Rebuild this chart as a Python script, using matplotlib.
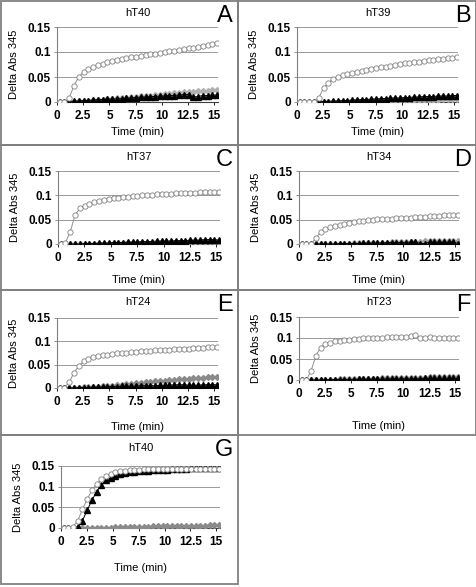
import matplotlib
matplotlib.use("Agg")
import matplotlib.pyplot as plt
from matplotlib.patches import Rectangle

W, H = 477, 587

# sampling times (min)
times = [0.25, 0.71, 1.16, 1.62, 2.07, 2.53, 2.98, 3.44, 3.89, 4.35, 4.80, 5.26,
         5.71, 6.17, 6.62, 7.08, 7.53, 7.99, 8.44, 8.90, 9.35, 9.81, 10.26, 10.72,
         11.17, 11.63, 12.08, 12.54, 12.99, 13.45, 13.90, 14.36, 14.81, 15.25]

titles = ["hT40", "hT39", "hT37", "hT34", "hT24", "hT23", "hT40"]
letters = ["A", "B", "C", "D", "E", "F", "G"]

# open circles
a_open = [0, 0, 0.008, 0.033, 0.050, 0.060, 0.066, 0.071, 0.074, 0.077, 0.080, 0.082,
          0.084, 0.086, 0.088, 0.090, 0.091, 0.093, 0.094, 0.096, 0.097, 0.099, 0.100, 0.102,
          0.103, 0.105, 0.106, 0.108, 0.109, 0.110, 0.112, 0.114, 0.116, 0.118]
b_open = [0, 0, 0, 0, 0.008, 0.028, 0.039, 0.046, 0.051, 0.054, 0.057, 0.059,
          0.061, 0.063, 0.065, 0.067, 0.069, 0.070, 0.071, 0.073, 0.074, 0.076, 0.078, 0.079,
          0.080, 0.081, 0.083, 0.084, 0.085, 0.086, 0.087, 0.088, 0.089, 0.090]
c_open = [0, 0.003, 0.025, 0.060, 0.073, 0.079, 0.083, 0.086, 0.088, 0.090, 0.092, 0.094,
          0.095, 0.096, 0.097, 0.098, 0.099, 0.100, 0.100, 0.101, 0.102, 0.102, 0.103, 0.103,
          0.104, 0.104, 0.105, 0.105, 0.105, 0.106, 0.106, 0.106, 0.106, 0.106]
d_open = [0, 0, 0, 0.012, 0.025, 0.030, 0.034, 0.037, 0.040, 0.042, 0.044, 0.046,
          0.047, 0.048, 0.049, 0.050, 0.051, 0.051, 0.052, 0.052, 0.053, 0.053, 0.054, 0.054,
          0.055, 0.055, 0.056, 0.057, 0.057, 0.058, 0.059, 0.059, 0.060, 0.060]
e_open = [0, 0.001, 0.012, 0.033, 0.047, 0.057, 0.062, 0.066, 0.068, 0.070, 0.071, 0.072,
          0.074, 0.075, 0.076, 0.077, 0.078, 0.079, 0.080, 0.080, 0.081, 0.081, 0.082, 0.082,
          0.083, 0.083, 0.084, 0.084, 0.085, 0.085, 0.086, 0.087, 0.087, 0.088]
f_open = [0, 0, 0.022, 0.058, 0.077, 0.086, 0.089, 0.092, 0.094, 0.095, 0.096, 0.097,
          0.098, 0.099, 0.100, 0.100, 0.101, 0.101, 0.102, 0.102, 0.103, 0.103, 0.103, 0.104,
          0.106, 0.101, 0.100, 0.102, 0.101, 0.101, 0.100, 0.100, 0.100, 0.100]
g_open = [0, 0, 0.003, 0.018, 0.045, 0.070, 0.091, 0.107, 0.118, 0.126, 0.131, 0.135,
          0.137, 0.139, 0.140, 0.141, 0.141, 0.142, 0.142, 0.142, 0.143, 0.143, 0.143, 0.143,
          0.143, 0.143, 0.143, 0.143, 0.143, 0.143, 0.143, 0.143, 0.142, 0.142]

# grey filled
a_grey = [0, 0, 0, 0.001, 0.002, 0.002, 0.003, 0.004, 0.005, 0.005, 0.006, 0.007,
          0.008, 0.009, 0.009, 0.010, 0.011, 0.012, 0.013, 0.013, 0.014, 0.015, 0.016, 0.017,
          0.018, 0.019, 0.020, 0.021, 0.021, 0.022, 0.023, 0.023, 0.024, 0.024]
b_grey = [0, 0, 0, 0, 0, 0, 0, 0.001, 0.001, 0.001, 0.001, 0.002,
          0.002, 0.002, 0.002, 0.003, 0.003, 0.003, 0.003, 0.003, 0.004, 0.004, 0.004, 0.004,
          0.004, 0.005, 0.005, 0.005, 0.005, 0.005, 0.006, 0.006, 0.006, 0.006]
c_grey = [0, 0, 0, 0, 0, 0, 0.001, 0.001, 0.001, 0.001, 0.001, 0.002,
          0.002, 0.002, 0.002, 0.002, 0.003, 0.003, 0.003, 0.003, 0.003, 0.004, 0.004, 0.004,
          0.004, 0.004, 0.004, 0.005, 0.005, 0.005, 0.005, 0.005, 0.005, 0.005]
d_grey = [0, 0, 0, 0, 0, 0, 0, 0.001, 0.001, 0.001, 0.001, 0.002,
          0.002, 0.002, 0.002, 0.003, 0.003, 0.003, 0.003, 0.004, 0.004, 0.004, 0.005, 0.005,
          0.005, 0.005, 0.006, 0.006, 0.006, 0.006, 0.007, 0.007, 0.007, 0.007]
e_grey = [0, 0, 0, 0.001, 0.001, 0.002, 0.002, 0.003, 0.003, 0.004, 0.005, 0.005,
          0.006, 0.007, 0.008, 0.009, 0.010, 0.011, 0.012, 0.013, 0.014, 0.015, 0.016, 0.017,
          0.018, 0.019, 0.020, 0.020, 0.021, 0.022, 0.022, 0.023, 0.024, 0.024]
f_grey = [0, 0, 0, 0, 0.001, 0.001, 0.001, 0.001, 0.002, 0.002, 0.002, 0.002,
          0.003, 0.003, 0.003, 0.003, 0.003, 0.004, 0.004, 0.004, 0.004, 0.005, 0.005, 0.005,
          0.005, 0.005, 0.005, 0.006, 0.006, 0.006, 0.006, 0.006, 0.006, 0.006]
g_grey = [0, 0, 0, 0, 0, 0, 0.001, 0.001, 0.001, 0.001, 0.001, 0.002,
          0.002, 0.002, 0.002, 0.003, 0.003, 0.003, 0.003, 0.004, 0.004, 0.004, 0.004, 0.005,
          0.005, 0.005, 0.005, 0.006, 0.006, 0.006, 0.006, 0.007, 0.007, 0.007]

# black triangles
a_black = [0, 0, 0.001, 0.002, 0.002, 0.003, 0.003, 0.004, 0.005, 0.005, 0.006, 0.006,
           0.006, 0.007, 0.008, 0.008, 0.009, 0.010, 0.010, 0.011, 0.011, 0.012, 0.012, 0.013,
           0.013, 0.014, 0.015, 0.015, 0.010, 0.011, 0.013, 0.013, 0.014, 0.014]
b_black = [0, 0, 0, 0, 0, 0.001, 0.001, 0.002, 0.002, 0.003, 0.003, 0.004,
           0.004, 0.005, 0.005, 0.006, 0.006, 0.007, 0.007, 0.008, 0.008, 0.008, 0.009, 0.009,
           0.010, 0.010, 0.011, 0.011, 0.011, 0.012, 0.012, 0.012, 0.013, 0.013]
c_black = [0, 0, 0, 0, 0, 0.001, 0.001, 0.001, 0.002, 0.002, 0.002, 0.003,
           0.003, 0.003, 0.004, 0.004, 0.004, 0.005, 0.005, 0.005, 0.006, 0.006, 0.006, 0.006,
           0.007, 0.007, 0.007, 0.008, 0.008, 0.008, 0.009, 0.009, 0.009, 0.008]
d_black = [0, 0, 0, 0, 0, 0, 0, 0, 0.001, 0.001, 0.001, 0.001,
           0.001, 0.002, 0.002, 0.002, 0.002, 0.002, 0.003, 0.003, 0.003, 0.003, 0.003, 0.004,
           0.004, 0.001, 0.001, 0.004, 0.004, 0.004, 0.004, 0.004, 0.004, 0.001]
e_black = [0, 0, 0, 0, 0.001, 0.001, 0.001, 0.002, 0.002, 0.002, 0.003, 0.003,
           0.003, 0.004, 0.004, 0.004, 0.004, 0.005, 0.005, 0.005, 0.005, 0.006, 0.006, 0.006,
           0.007, 0.007, 0.007, 0.006, 0.006, 0.006, 0.007, 0.007, 0.007, 0.007]
f_black = [0, 0, 0, 0, 0, 0, 0.001, 0.001, 0.001, 0.001, 0.001, 0.001,
           0.002, 0.002, 0.002, 0.002, 0.002, 0.002, 0.003, 0.003, 0.003, 0.003, 0.003, 0.003,
           0.003, 0.003, 0.004, 0.004, 0.004, 0.004, 0.004, 0.004, 0.004, 0.004]
g_black = [0, 0, 0, 0.003, 0.018, 0.043, 0.067, 0.088, 0.104, 0.115, 0.122, 0.127,
           0.130, 0.133, 0.135, 0.136, 0.137, 0.138, 0.139, 0.140, 0.140, 0.141, 0.141, 0.142,
           0.142, 0.143, 0.143, 0.144, 0.144, 0.144, 0.144, 0.144, 0.144, 0.144]

open_series = [a_open, b_open, c_open, d_open, e_open, f_open, g_open]
grey_series = [a_grey, b_grey, c_grey, d_grey, e_grey, f_grey, g_grey]
black_series = [a_black, b_black, c_black, d_black, e_black, f_black, g_black]

# panel box (x0, y0, x1, y1) and axes box (left, top, right, bottom), pixels
boxes = [(1, 1, 238, 145), (238, 1, 476, 145), (1, 145, 238, 290), (238, 145, 476, 290),
         (1, 290, 238, 435), (238, 290, 476, 435), (1, 435, 238, 584)]
axboxes = [(57, 27, 218, 102), (297, 27, 458, 102), (58, 171, 220, 244), (299, 171, 459, 244),
           (57, 318, 218, 388), (299, 317, 459, 380), (61, 466, 220, 528)]
xlabel_y = [132, 132, 280, 280, 427, 426, 568]
grey_col = ["#b0b0b0", "#b0b0b0", "#b0b0b0", "#a0a0a0", "#8a8a8a", "#8a8a8a", "#8a8a8a"]

plt.rcParams["font.family"] = "Liberation Sans"
fig = plt.figure(figsize=(W / 100, H / 100), dpi=100)

for i in range(7):
    x0, y0, x1, y1 = boxes[i]
    fig.patches.append(Rectangle((x0 / W, 1 - y1 / H), (x1 - x0) / W, (y1 - y0) / H,
                                 transform=fig.transFigure, fill=False,
                                 edgecolor="#808080", linewidth=1.3))
    l, t, r, b = axboxes[i]
    ax = fig.add_axes([l / W, 1 - b / H, (r - l) / W, (b - t) / H])
    ax.plot(times, grey_series[i], color=grey_col[i], marker="D", markersize=3.0,
            linewidth=0.7, zorder=3)
    ax.plot(times, black_series[i], color="black", marker="^", markersize=4.0,
            linewidth=0.7, zorder=4)
    ax.plot(times, open_series[i], color="#909090", marker="o", markersize=3.8,
            markerfacecolor="white", markeredgecolor="#808080", markeredgewidth=0.6,
            linewidth=0.7, zorder=5)
    ax.set_xlim(0, 15.35)
    ax.set_ylim(0, 0.15)
    ax.set_yticks([0, 0.05, 0.1, 0.15])
    ax.set_yticklabels(["0", "0.05", "0.1", "0.15"], fontweight="bold", fontsize=8.5)
    ax.set_xticks([0, 2.5, 5, 7.5, 10, 12.5, 15])
    ax.set_xticklabels(["0", "2.5", "5", "7.5", "10", "12.5", "15"], fontweight="bold",
                       fontsize=8.5)
    ax.yaxis.grid(True, color="#9a9a9a", linewidth=0.7)
    ax.set_axisbelow(True)
    for s in ["top", "right"]:
        ax.spines[s].set_visible(False)
    ax.spines["left"].set_color("#808080")
    ax.spines["bottom"].set_color("#404040")
    ax.tick_params(axis="both", length=2, width=0.6, colors="black")
    ax.tick_params(axis="x", pad=3.5)
    ax.tick_params(axis="y", pad=2.5, color="#808080")
    ax.set_ylabel("Delta Abs 345", fontsize=8, labelpad=6)
    ax.text((l + r) / 2 / W, 1 - xlabel_y[i] / H, "Time (min)", transform=fig.transFigure,
            ha="center", va="center", fontsize=8)
    title_y = y0 + 12 if i < 6 else y0 + 13
    fig.text((l + r) / 2 / W, 1 - title_y / H, titles[i], ha="center", va="center", fontsize=8)
    fig.text((x1 - 5) / W, 1 - (y0 + 15) / H, letters[i], ha="right", va="center", fontsize=17)

fig.savefig("out.png", dpi=100)
